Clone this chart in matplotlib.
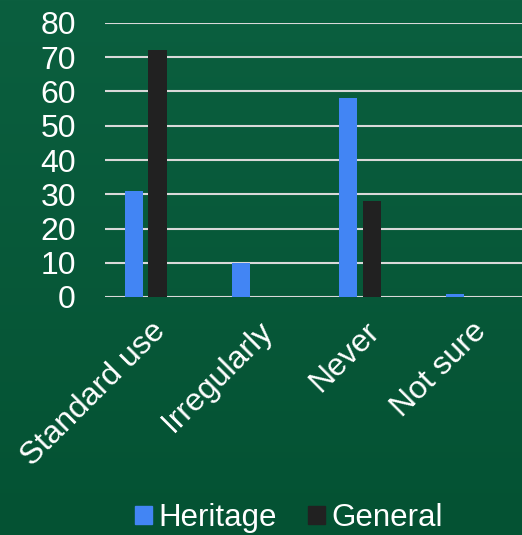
import matplotlib
matplotlib.use("Agg")
import matplotlib.pyplot as plt
import numpy as np
from matplotlib.patches import Patch
import matplotlib.transforms as mtransforms

categories = ["Standard use", "Irregularly", "Never", "Not sure"]
heritage = [31, 10, 58, 1]
general = [72, 0, 28, 0]
yticks = [0, 10, 20, 30, 40, 50, 60, 70, 80]

plt.rcParams['font.family'] = ['Liberation Sans', 'DejaVu Sans']

W, H = 522, 535
fig = plt.figure(figsize=(W / 100, H / 100), dpi=100)

# gradient background
bg = fig.add_axes([0, 0, 1, 1], zorder=-10)
top = np.array([11, 95, 63]) / 255
bot = np.array([4, 82, 51]) / 255
t = np.linspace(0, 1, 256)[:, None]
grad = top[None, None, :] * (1 - t[:, :, None]) + bot[None, None, :] * t[:, :, None]
grad = np.repeat(grad, 2, axis=1)
bg.imshow(grad, aspect='auto', extent=[0, 1, 0, 1])
bg.axis('off')

ax = fig.add_axes([105 / W, 1 - 297 / H, 1 - 105 / W, (297 - 23) / H])
ax.set_facecolor('none')
x = np.arange(len(categories))
bw = 0.175
off = 0.111
ax.bar(x - off, heritage, bw, color='#4285f4', zorder=3, label='Heritage')
ax.bar(x + off, general, bw, color='#212121', zorder=3, label='General')

ax.set_xlim(-0.383, 3.514)
ax.set_ylim(0, 80)
ax.set_yticks(yticks)
ax.grid(axis='y', color='#d9d9d9', linewidth=1.5, zorder=0)
ax.set_axisbelow(True)
for s in ax.spines.values():
    s.set_visible(False)
ax.tick_params(axis='both', length=0, colors='white', labelsize=23)
ax.tick_params(axis='y', pad=21)
ax.set_xticks(x)
ax.set_xticklabels(categories, rotation=45, ha='right', rotation_mode='anchor', va='center')
offset = mtransforms.ScaledTranslation(15 / 100, -25 / 100, fig.dpi_scale_trans)
for lbl in ax.get_xticklabels():
    lbl.set_transform(lbl.get_transform() + offset)

handles = [Patch(color='#4285f4'), Patch(color='#212121')]
fig.legend(handles, ['Heritage', 'General'], loc='center', bbox_to_anchor=(289 / W, 1 - 518 / H),
           ncol=2, frameon=False, fontsize=22.5, labelcolor='white',
           handlelength=0.55, handleheight=0.55, handletextpad=0.2, columnspacing=1.0)

fig.savefig('out.png', dpi=100)
